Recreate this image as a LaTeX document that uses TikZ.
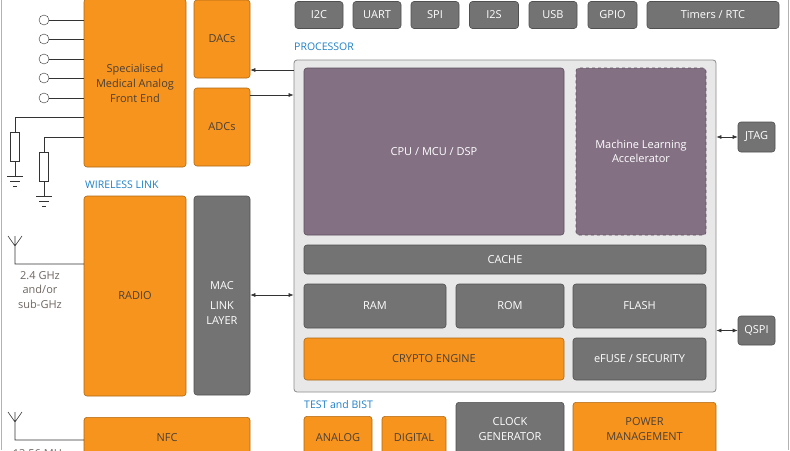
\documentclass[tikz,border=0pt]{standalone}
\usepackage{fontspec}
\setmainfont{Open Sans}
\usetikzlibrary{arrows.meta}
\definecolor{org}{HTML}{F7941D}
\definecolor{gry}{HTML}{737373}
\definecolor{pur}{HTML}{837083}
\definecolor{blu}{HTML}{1F7FC7}
\definecolor{txt}{HTML}{4A4038}
\begin{document}
\begin{tikzpicture}[x=1pt,y=-1pt,
 base/.style={draw=#1!70!black,rounded corners=3pt,line width=0.6pt,align=center,font=\fontsize{11}{13.5}\selectfont},
 ob/.style={base=org,fill=org,text=txt},
 gb/.style={base=gry,fill=gry,text=white},
 pb/.style={base=pur,fill=pur,text=white},
 lbl/.style={text=blu,anchor=west,font=\fontsize{10.5}{12}\selectfont,inner sep=0},
 wire/.style={draw=black!80,line width=0.6pt},
 arr/.style={wire,{Latex[length=5pt,width=4pt]}-{Latex[length=5pt,width=4pt]}},
 arl/.style={wire,-{Latex[length=5pt,width=4pt]}}]
\useasboundingbox (0,0) rectangle (790,450);
\draw[gray!60,line width=1pt] (1,0)--(1,450) (788,0)--(788,450);
% peripherals
\node[gb,minimum width=48,minimum height=27] (i2c) at (319,15) {I2C};
\node[gb,minimum width=48,minimum height=27] (uart) at (377,15) {UART};
\node[gb,minimum width=48,minimum height=27] (spi) at (435,15) {SPI};
\node[gb,minimum width=49,minimum height=27] (i2s) at (494,15) {I2S};
\node[gb,minimum width=48,minimum height=27] (usb) at (553,15) {USB};
\node[gb,minimum width=49,minimum height=27] (gpio) at (612.5,15) {GPIO};
\node[gb,minimum width=132,minimum height=27] (tim) at (713,15) {Timers / RTC};
% analog front end
\node[ob,minimum width=102,minimum height=168] (afe) at (135,83) {};
\node[text=txt,align=center,font=\fontsize{11}{15}\selectfont] at (135,83) {Specialised\\Medical Analog\\Front End};
\node[ob,minimum width=56,minimum height=78] (dac) at (222,39) {DACs};
\node[ob,minimum width=56,minimum height=78] (adc) at (222,127) {ADCs};
\foreach \y [count=\i] in {20,39,59,78,98}{
 \node[circle,draw=black!80,fill=white,minimum size=10,inner sep=0] (e\i) at (44,\y) {};
 \draw[wire] (e\i.east) -- (e\i.east -| afe.west);}
% resistors
\coordinate (r1t) at (15,117); \coordinate (r2t) at (44,137);
\draw[wire] (84,117) -- (r1t) -- (15,132);
\draw[wire,fill=white] (10.5,132) rectangle (19.5,161);
\draw[wire] (15,161)--(15,176) (7,176)--(23,176) (10,181)--(20,181) (13,186)--(17,186);
\draw[wire] (84,137) -- (r2t) -- (44,152);
\draw[wire,fill=white] (39.5,152) rectangle (48.5,181);
\draw[wire] (44,181)--(44,196) (36,196)--(52,196) (39,201)--(49,201) (42,206)--(46,206);
% wireless
\node[lbl] at (85,185) {WIRELESS LINK};
\node[ob,minimum width=102,minimum height=200] (radio) at (135,296) {RADIO};
\node[gb,minimum width=56,minimum height=199] (mac) at (222,295.5) {};
\node[white,align=center,font=\fontsize{11}{14.5}\selectfont] at (222,303) {MAC\\[6pt]LINK\\LAYER};
\coordinate (ant1) at (15,264);
\draw[wire] (84,264) -- (ant1) -- (15,236) (15,246)--(8,236) (15,246)--(22,236);
\node[text=txt!80,align=center,font=\fontsize{11}{14.5}\selectfont] at (40,290) {2.4 GHz\\and/or\\sub-GHz};
\node[ob,minimum width=166,minimum height=50,anchor=north] (nfc) at (167,417) {};
\node[txt,font=\fontsize{11}{13}\selectfont] at (167,438) {NFC};
\coordinate (ant2) at (15,440);
\draw[wire] (84,440) -- (ant2) -- (15,412) (15,422)--(8,412) (15,422)--(22,412);
\node[text=txt!80,font=\fontsize{11}{12}\selectfont] at (40,454) {13.56 MHz};
% processor
\node[lbl] at (294,47) {PROCESSOR};
\node[draw=black!45,fill=black!9,rounded corners=3pt,line width=0.8pt,minimum width=422,minimum height=332,inner sep=0] (proc) at (505,226) {};
\node[pb,minimum width=260,minimum height=167] (cpu) at (434,151.5) {CPU / MCU / DSP};
\node[pb,dashed,minimum width=130,minimum height=167] (ml) at (641,151.5) {Machine Learning\\Accelerator};
\node[gb,minimum width=402,minimum height=29] (cache) at (505,259.5) {CACHE};
\node[gb,minimum width=142,minimum height=44] (ram) at (375,306) {RAM};
\node[gb,minimum width=108,minimum height=44] (rom) at (510,306) {ROM};
\node[gb,minimum width=133,minimum height=44] (flash) at (639.5,306) {FLASH};
\node[ob,minimum width=260,minimum height=42] (crypto) at (434,359) {CRYPTO ENGINE};
\node[gb,minimum width=133,minimum height=42] (efuse) at (639.5,359) {eFUSE / SECURITY};
\node[gb,minimum width=37,minimum height=30] (jtag) at (756.5,137) {JTAG};
\node[gb,minimum width=37,minimum height=29] (qspi) at (756.5,330.5) {QSPI};
\draw[arr] (proc.east |- jtag) -- (jtag.west);
\draw[arr] (proc.east |- qspi) -- (qspi.west);
\draw[arl] (proc.west |- 0,70) -- (dac.east |- 0,70);
\draw[arl] (adc.east |- 0,95) -- (proc.west |- 0,95);
\draw[arr] (mac.east |- 0,295) -- (proc.west |- 0,295);
% test
\node[lbl] at (304,405) {TEST and BIST};
\node[ob,minimum width=68,minimum height=44,anchor=north] (ana) at (338,416) {};
\node[txt,font=\fontsize{11}{13}\selectfont] at (338,438) {ANALOG};
\node[ob,minimum width=64,minimum height=44,anchor=north] (dig) at (414,416) {};
\node[txt,font=\fontsize{11}{13}\selectfont] at (414,438) {DIGITAL};
\node[gb,minimum width=108,minimum height=55,anchor=north] (clk) at (510,402) {};
\node[white,align=center,font=\fontsize{11}{15}\selectfont] at (510,429) {CLOCK\\GENERATOR};
\node[ob,minimum width=143,minimum height=55,anchor=north] (pwr) at (644.5,402) {};
\node[txt,align=center,font=\fontsize{11}{15}\selectfont] at (644.5,429) {POWER\\MANAGEMENT};
\end{tikzpicture}
\end{document}
